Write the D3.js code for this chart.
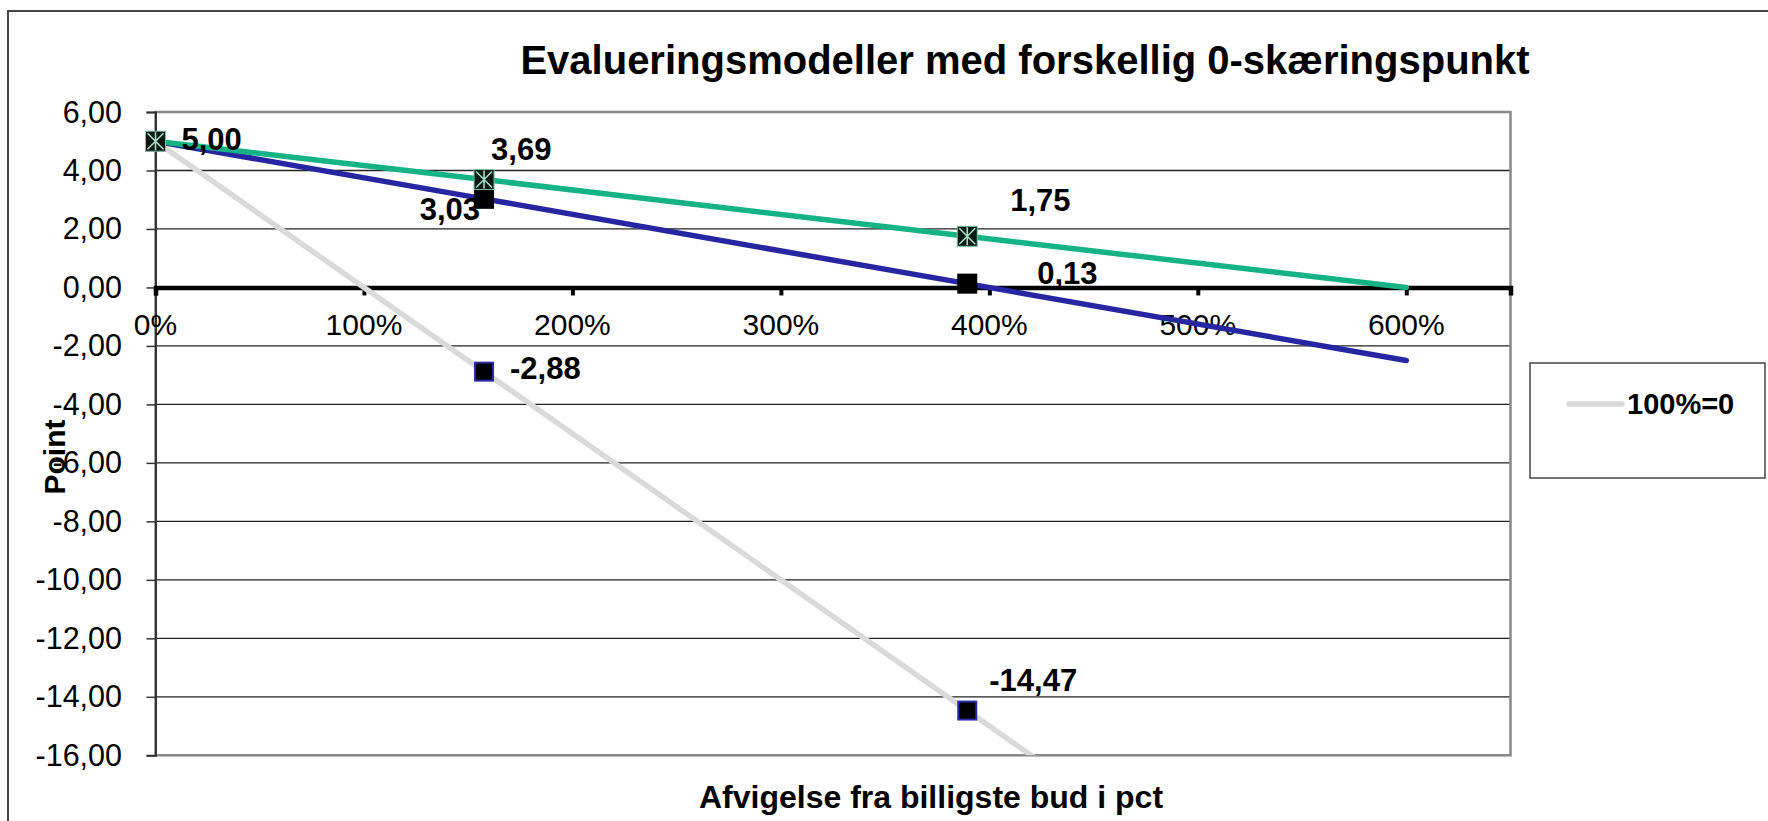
<!DOCTYPE html>
<html>
<head>
<meta charset="utf-8">
<script src="https://cdn.jsdelivr.net/npm/d3@7"></script>
<style>
  html, body { margin: 0; padding: 0; background: #fff; }
  svg { display: block; }
  text { font-family: "Liberation Sans", Arial, sans-serif; fill: #000; }
</style>
</head>
<body>
<svg id="chart" width="1768" height="821"></svg>
<script>
// ---------- data ----------
const chartTitle = "Evalueringsmodeller med forskellig 0-skæringspunkt";
const xAxisTitle = "Afvigelse fra billigste bud i pct";
const yAxisTitle = "Point";
const xValues = [0, 1.576, 3.894, 6];          // deviation as fraction (0% .. 600%)
const seriesNames = ["100%=0", "400%=0", "600%=0"];
const grayValues  = [5.00, -2.88, -14.47, -25.00];
const blueValues  = [5.00, 3.03, 0.13, -2.50];
const greenValues = [5.00, 3.69, 1.75, 0.00];
const xTickValues = [0, 1, 2, 3, 4, 5, 6];
const xTickLabels = ["0%", "100%", "200%", "300%", "400%", "500%", "600%"];
const yTickValues = [6, 4, 2, 0, -2, -4, -6, -8, -10, -12, -14, -16];
const yTickLabels = ["6,00", "4,00", "2,00", "0,00", "-2,00", "-4,00", "-6,00", "-8,00", "-10,00", "-12,00", "-14,00", "-16,00"];
const legendNames = ["100%=0"];

// which points are labelled, and label placement (style)
const labelSpec = [
  { s: 0, i: 1, dx: 26, dy: 7, anchor: "start" },
  { s: 0, i: 2, dx: 22, dy: -20, anchor: "start" },
  { s: 1, i: 0, dx: 26, dy: 9, anchor: "start" },
  { s: 1, i: 1, dx: -4, dy: 21, anchor: "end" },
  { s: 1, i: 2, dx: 70, dy: 0, anchor: "start" },
  { s: 2, i: 1, dx: 7, dy: -20, anchor: "start" },
  { s: 2, i: 2, dx: 43, dy: -25, anchor: "start" }
];

// ---------- layout ----------
const svg = d3.select("#chart");
const W = 1768, H = 821;
const plot = { left: 155.5, right: 1510.5, top: 112, bottom: 755.3 };

const x = d3.scaleLinear().domain([0, 6.5]).range([plot.left, plot.right]);
const y = d3.scaleLinear().domain([-16, 6]).range([plot.bottom, plot.top]);

const fmt = v => d3.format(".2f")(v).replace(".", ",").replace("−", "-");

// outer chart border
svg.append("rect")
  .attr("x", 8).attr("y", 11).attr("width", W).attr("height", H)
  .attr("fill", "#fff").attr("stroke", "#444").attr("stroke-width", 2);

// title
svg.append("text")
  .attr("x", 1025).attr("y", 74)
  .attr("text-anchor", "middle")
  .attr("font-size", 40).attr("font-weight", "bold")
  .text(chartTitle);

// gridlines
svg.append("g").selectAll("line")
  .data(yTickValues.filter(v => v !== 6 && v !== -16 && v !== 0))
  .join("line")
  .attr("x1", plot.left).attr("x2", plot.right)
  .attr("y1", d => y(d)).attr("y2", d => y(d))
  .attr("stroke", "#222").attr("stroke-width", 1.3);

// plot border
svg.append("rect")
  .attr("x", plot.left).attr("y", plot.top)
  .attr("width", plot.right - plot.left).attr("height", plot.bottom - plot.top)
  .attr("fill", "none").attr("stroke", "#888").attr("stroke-width", 2.5);

// y axis
const yAxis = d3.axisLeft(y).tickValues(yTickValues).tickSize(9).tickFormat("");
const yg = svg.append("g").attr("transform", `translate(${plot.left},0)`).call(yAxis);
yg.select(".domain").attr("stroke", "#333").attr("stroke-width", 2);
yg.selectAll(".tick line").attr("stroke", "#333").attr("stroke-width", 1.5);
svg.append("g").selectAll("text")
  .data(yTickValues)
  .join("text")
  .attr("x", 122).attr("y", d => y(d) + 10.5)
  .attr("text-anchor", "end").attr("font-size", 30.5)
  .text((d, i) => yTickLabels[i]);

// x axis at y = 0
const xAxis = d3.axisBottom(x).tickValues(xTickValues).tickSize(8).tickFormat("");
const xg = svg.append("g").attr("transform", `translate(0,${y(0)})`).call(xAxis);
xg.select(".domain").attr("stroke", "#000").attr("stroke-width", 4.5);
xg.selectAll(".tick line").attr("stroke", "#000").attr("stroke-width", 4);
svg.append("g").selectAll("text")
  .data(xTickValues)
  .join("text")
  .attr("x", d => x(d)).attr("y", y(0) + 48)
  .attr("text-anchor", "middle").attr("font-size", 30)
  .text((d, i) => xTickLabels[i]);

// axis titles
svg.append("text")
  .attr("x", 931).attr("y", 808)
  .attr("text-anchor", "middle").attr("font-size", 32).attr("font-weight", "bold")
  .text(xAxisTitle);
svg.append("text")
  .attr("transform", "translate(65,457) rotate(-90)")
  .attr("text-anchor", "middle").attr("font-size", 30).attr("font-weight", "bold")
  .text(yAxisTitle);

// clip
svg.append("clipPath").attr("id", "plotclip")
  .append("rect")
  .attr("x", plot.left).attr("y", plot.top)
  .attr("width", plot.right - plot.left).attr("height", plot.bottom - plot.top);

const series = [
  { name: seriesNames[0], values: grayValues, color: "#dadada" },
  { name: seriesNames[1], values: blueValues, color: "#2626a3" },
  { name: seriesNames[2], values: greenValues, color: "#14b386" }
];

const line = d3.line().x((d, i) => x(xValues[i])).y(d => y(d));
const lines = svg.append("g").attr("clip-path", "url(#plotclip)");
series.forEach(s => {
  lines.append("path")
    .attr("d", line(s.values))
    .attr("fill", "none")
    .attr("stroke", s.color)
    .attr("stroke-width", 5.5)
    .attr("stroke-linecap", "round")
    .attr("stroke-linejoin", "round");
});

// markers (first three points of each series)
const mk = svg.append("g");
const M = 10;
[0, 1, 2].forEach(i => {
  mk.append("rect")
    .attr("x", x(xValues[i]) - 9).attr("y", y(grayValues[i]) - 9)
    .attr("width", 18).attr("height", 18)
    .attr("fill", "#000").attr("stroke", "#2a2aa8").attr("stroke-width", 2);
});
[0, 1, 2].forEach(i => {
  mk.append("rect")
    .attr("x", x(xValues[i]) - M).attr("y", y(blueValues[i]) - M)
    .attr("width", 2 * M).attr("height", 2 * M)
    .attr("fill", "#000");
});
[0, 1, 2].forEach(i => {
  const cx = x(xValues[i]), cy = y(greenValues[i]);
  const g = mk.append("g").attr("transform", `translate(${cx},${cy})`);
  g.append("rect").attr("x", -M).attr("y", -M).attr("width", 2 * M).attr("height", 2 * M)
    .attr("fill", "#081a12").attr("stroke", "#7fbfa4").attr("stroke-width", 1);
  g.append("path")
    .attr("d", `M${-M + 2},${-M + 2}L${M - 2},${M - 2}M${M - 2},${-M + 2}L${-M + 2},${M - 2}M0,${-M + 1}L0,${M - 1}`)
    .attr("stroke", "#a6dcc4").attr("stroke-width", 1.6).attr("fill", "none");
});

// data labels
const labelG = svg.append("g");
labelSpec.forEach(l => {
  const v = series[l.s].values[l.i];
  labelG.append("text")
    .attr("x", x(xValues[l.i]) + l.dx)
    .attr("y", y(v) + l.dy)
    .attr("text-anchor", l.anchor)
    .attr("font-size", 31).attr("font-weight", "bold")
    .text(fmt(v));
});

// legend
const lg = svg.append("g");
lg.append("rect")
  .attr("x", 1530).attr("y", 363).attr("width", 235).attr("height", 115)
  .attr("fill", "#fff").attr("stroke", "#444").attr("stroke-width", 1.5);
legendNames.forEach((n, i) => {
  lg.append("line")
    .attr("x1", 1569).attr("x2", 1622).attr("y1", 404 + i * 40).attr("y2", 404 + i * 40)
    .attr("stroke", series[i].color).attr("stroke-width", 5.5).attr("stroke-linecap", "round");
  lg.append("text")
    .attr("x", 1627).attr("y", 414 + i * 40)
    .attr("font-size", 29).attr("font-weight", "bold")
    .text(n);
});
</script>
</body>
</html>
